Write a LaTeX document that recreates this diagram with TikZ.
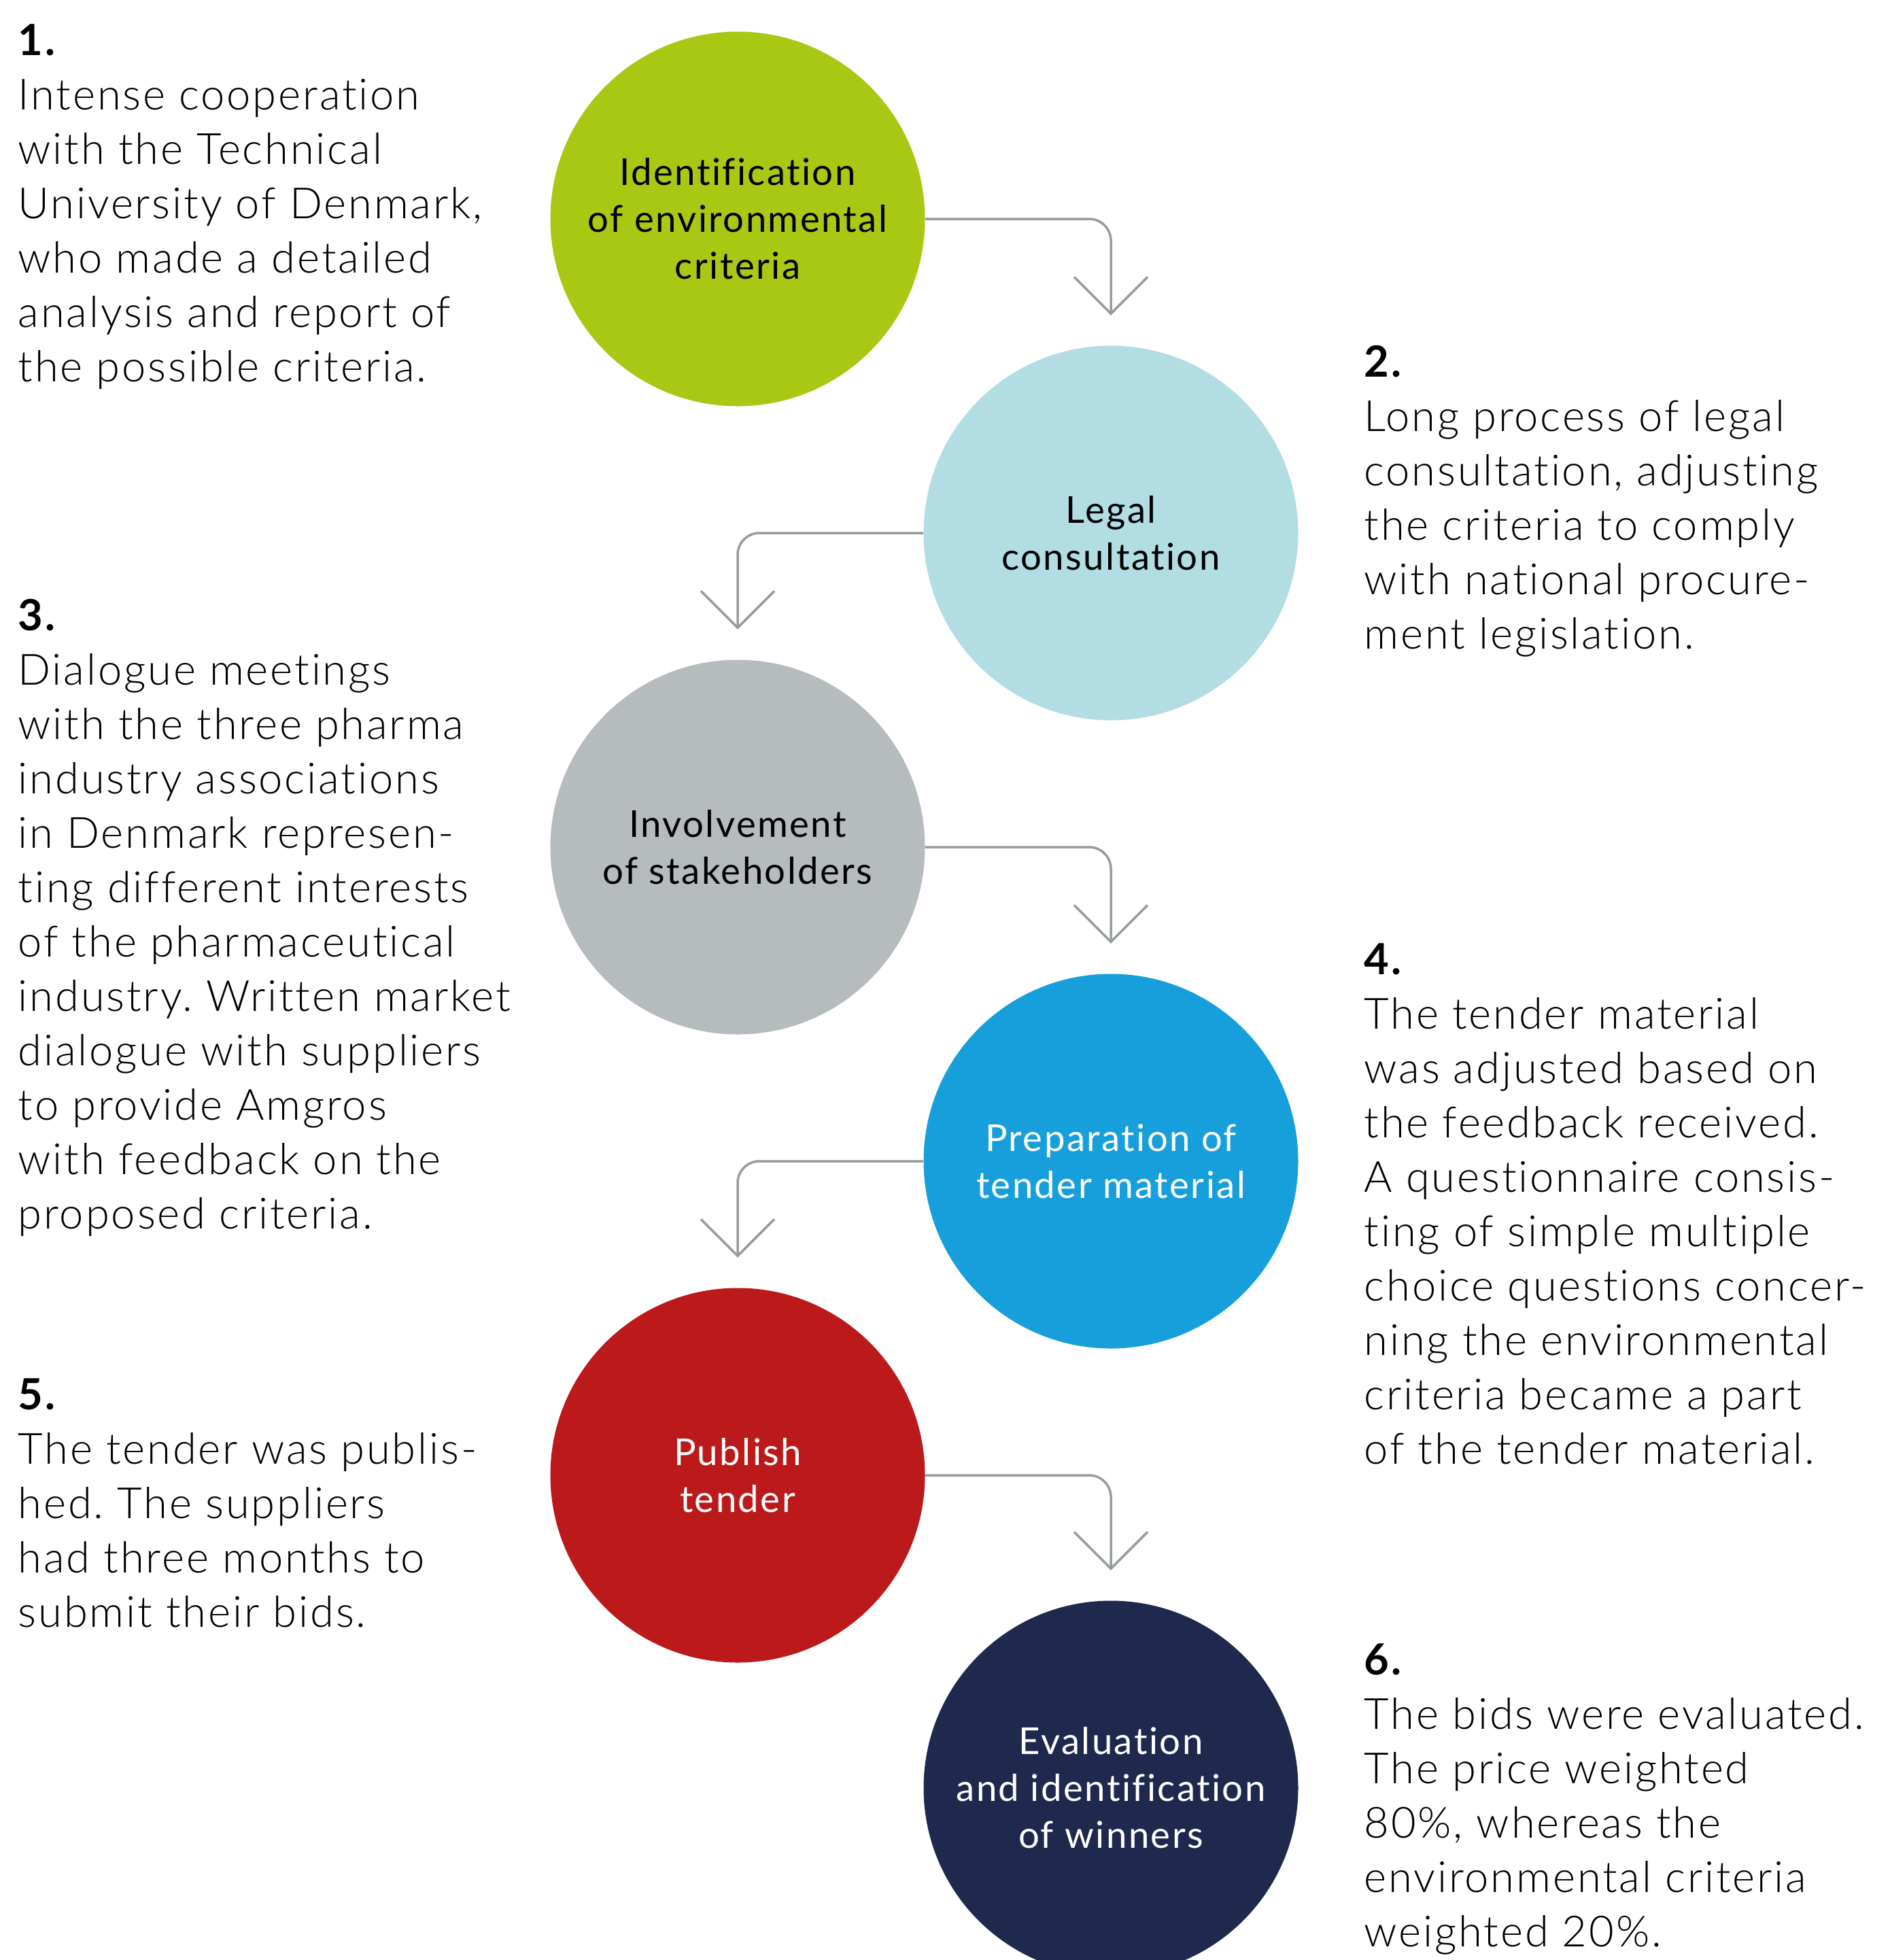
\documentclass[tikz,border=0pt]{standalone}
\usepackage{fontspec}
\setmainfont{Lato}[UprightFont = * Light, BoldFont = * Bold, LetterSpace = 4.5, Ligatures = NoCommon]
\newfontfamily\circlefont{Lato}[LetterSpace = 4.5, Ligatures = NoCommon]
\usetikzlibrary{arrows.meta}
\frenchspacing

\definecolor{idgreen}{HTML}{A8C814}
\definecolor{legalblue}{HTML}{B1DDE3}
\definecolor{involvegrey}{HTML}{B6BBBE}
\definecolor{prepblue}{HTML}{169FDB}
\definecolor{publishred}{HTML}{BB191A}
\definecolor{evalnavy}{HTML}{1F294D}
\definecolor{flowgrey}{HTML}{979C9F}

\begin{document}
\begin{tikzpicture}[
	stepcircle/.style = {circle, minimum size = 5.51cm, inner sep = 0pt, align = center,
		font = \circlefont\fontsize{15.5}{19.6}\selectfont},
	note/.style = {anchor = base west, align = left, inner sep = 0pt,
		font = \fontsize{18}{22.76}\selectfont},
	flow/.style = {draw = flowgrey, line width = 1pt, rounded corners = 0.32cm,
		-{Straight Barb[length = 5.4mm, width = 10.8mm]}}
]
	\useasboundingbox (0,0) rectangle (27.80,-28.83);

	\node[stepcircle, fill = idgreen] (IDENT) at (10.85,-3.22) {Identification\\of environmental\\criteria};
	\node[stepcircle, fill = legalblue] (LEGAL) at (16.34,-7.84) {Legal\\consultation};
	\node[stepcircle, fill = involvegrey] (INVOLVE) at (10.85,-12.46) {Involvement\\of stakeholders};
	\node[stepcircle, fill = prepblue, text = white] (PREP) at (16.34,-17.08) {Preparation of\\tender material};
	\node[stepcircle, fill = publishred, text = white] (PUBLISH) at (10.85,-21.70) {Publish\\tender};
	\node[stepcircle, fill = evalnavy, text = white] (EVAL) at (16.34,-26.30) {Evaluation\\and identification\\of winners};

	\draw[flow] (IDENT.east) -| ([yshift = 0.44cm]LEGAL.north);
	\draw[flow] (LEGAL.west) -| ([yshift = 0.44cm]INVOLVE.north);
	\draw[flow] (INVOLVE.east) -| ([yshift = 0.44cm]PREP.north);
	\draw[flow] (PREP.west) -| ([yshift = 0.44cm]PUBLISH.north);
	\draw[flow] (PUBLISH.east) -| ([yshift = 0.44cm]EVAL.north);

	\node[note] (NOTE1) at (0.26,-5.61) {\textbf{1.}\\Intense cooperation\\with the Technical\\University of Denmark,\\who made a detailed\\analysis and report of\\the possible criteria.};
	\node[note] (NOTE2) at (20.06,-9.54) {\textbf{2.}\\Long process of legal\\consultation, adjusting\\the criteria to comply\\with national procure-\\ment legislation.};
	\node[note] (NOTE3) at (0.26,-18.07) {\textbf{3.}\\Dialogue meetings\\with the three pharma\\industry associations\\in Denmark represen-\\ting different interests\\of the pharmaceutical\\industry. Written market\\dialogue with suppliers\\to provide Amgros\\with feedback on the\\proposed criteria.};
	\node[note] (NOTE4) at (20.06,-21.53) {\textbf{4.}\\The tender material\\was adjusted based on\\the feedback received.\\A questionnaire consis-\\ting of simple multiple\\choice questions concer-\\ning the environmental\\criteria became a part\\of the tender material.};
	\node[note] (NOTE5) at (0.26,-23.93) {\textbf{5.}\\The tender was publis-\\hed. The suppliers\\had three months to\\submit their bids.};
	\node[note] (NOTE6) at (20.06,-28.63) {\textbf{6.}\\The bids were evaluated.\\The price weighted\\80\%, whereas the\\environmental criteria\\weighted 20\%.};
\end{tikzpicture}
\end{document}
